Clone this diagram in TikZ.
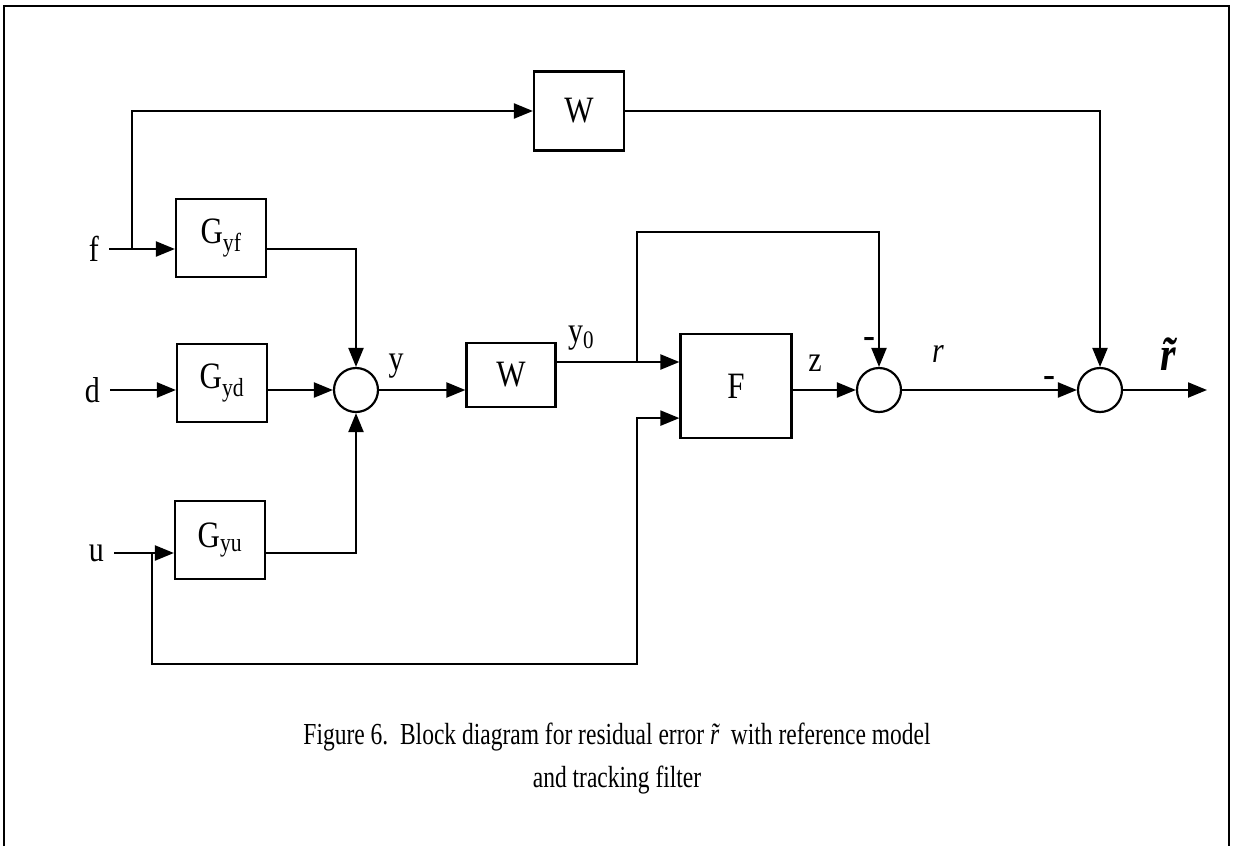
\documentclass[tikz,border=0pt]{standalone}
\usepackage{amsmath,amssymb}
\usepackage{graphicx}
\usepackage{fontspec}
\setmainfont{Liberation Serif}
\usepackage{tikz}
\usetikzlibrary{arrows.meta,positioning,calc}
\newcommand{\tall}[1]{\scalebox{1}[1.2]{#1}}
\newcommand{\rtil}{{\itshape\accent"02DC r}}

\begin{document}
\begin{tikzpicture}[x=1pt,y=-1pt,>={Triangle[length=19pt,width=15pt]},line width=2.2pt,
  block/.style={draw,line width=2.2pt,minimum width=90pt,minimum height=78pt,inner sep=0pt,font=\fontsize{31}{34}\selectfont},
  sum/.style={draw,circle,line width=2.2pt,minimum size=44pt,inner sep=0pt},
  lbl/.style={inner sep=0pt,font=\fontsize{30}{34}\selectfont},
  sig/.style={->,line width=2.2pt}]
  \useasboundingbox (0,0) rectangle (1233,846);
  \draw (4,846) -- (4,6) -- (1229,6) -- (1229,846);

  \node[block] (gyf) at (221,238) {\tall{G\textsubscript{yf}}};
  \node[block] (gyd) at (222,383) {\tall{G\textsubscript{yd}}};
  \node[block] (gyu) at (220,540) {\tall{G\textsubscript{yu}}};
  \node[sum] (s1) at (356,390) {};
  \node[block,minimum width=89pt,minimum height=64pt] (wm) at (511,375) {\tall{W}};
  \node[block,minimum width=111pt,minimum height=104pt] (flt) at (736,386) {\tall{F}};
  \node[sum] (s2) at (879,390) {};
  \node[sum] (s3) at (1100,390) {};
  \node[block,minimum height=79pt] (wt) at (579,111) {\tall{W}};

  \coordinate (fin) at (109,249);
  \coordinate (din) at (110,390);
  \coordinate (uin) at (114,553);
  \coordinate (jf) at (132,249);
  \coordinate (ju) at (152,553);
  \coordinate (jy) at (637,362);
  \coordinate (jt) at (637,232);
  \coordinate (lb) at (637,664);
  \coordinate (out) at (1207,390);

  \node[lbl,left=9pt of fin] {\tall{f}};
  \node[lbl,left=9pt of din] {\tall{d}};
  \node[lbl,left=9pt of uin] {\tall{u}};
  \node[lbl] at (396,366) {\tall{y}};
  \node[lbl] at (581,338) {\tall{y\textsubscript{0}}};
  \node[lbl] at (815,363) {\tall{z}};
  \node[lbl] at (938,354) {\tall{\textit{r}}};
  \node[lbl] at (1168,354) {\fontsize{40}{44}\selectfont\bfseries\tall{\rtil}};
  \node[lbl] at (869,342) {\fontsize{36}{40}\selectfont\textbf{-}};
  \node[lbl] at (1049,381) {\fontsize{36}{40}\selectfont\textbf{-}};

  \draw[sig] (fin) -- (fin -| gyf.west);
  \draw[sig] (jf) |- (wt.west);
  \draw[sig] (fin -| gyf.east) -| (s1.north);
  \draw[sig] (din) -- (din -| gyd.west);
  \draw[sig] (din -| gyd.east) -- (s1.west);
  \draw[sig] (uin) -- (uin -| gyu.west);
  \draw[sig] (uin -| gyu.east) -| (s1.south);
  \draw[sig] (s1.east) -- (s1 -| wm.west);
  \draw[sig] (jy -| wm.east) -- (jy -| flt.west);
  \draw[sig] (ju) -- (ju |- lb) -- (lb) |- ($(flt.south west)+(0,-21)$);
  \draw[sig] (jy) -- (jt) -| (s2.north);
  \draw[sig] (flt.east |- s2) -- (s2.west);
  \draw[sig] (s2.east) -- (s3.west);
  \draw[sig] (wt.east) -| (s3.north);
  \draw[sig] (s3.east) -- (out);

  \node[font=\fontsize{23.5}{28}\selectfont] (cap1) at (617,737)
    {\scalebox{1}[1.3]{Figure 6.\ \ Block diagram for residual error \rtil\ \ with reference model}};
  \node[font=\fontsize{23.5}{28}\selectfont,below=6pt of cap1] (cap2)
    {\scalebox{1}[1.3]{and tracking filter}};
\end{tikzpicture}
\end{document}
